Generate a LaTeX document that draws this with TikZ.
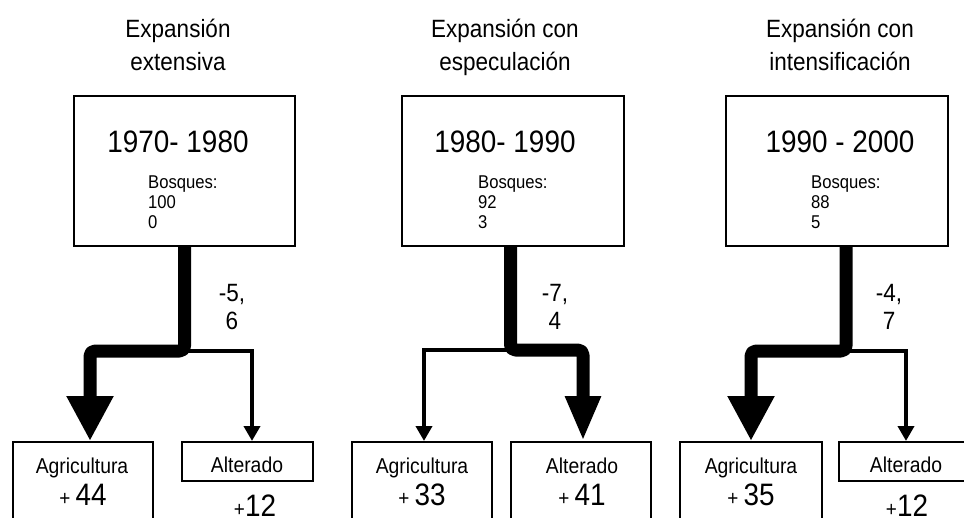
\documentclass[tikz,border=0pt]{standalone}
\usepackage{fontspec}
\setmainfont{Liberation Sans}[FakeStretch=0.9]
\usetikzlibrary{arrows.meta,calc}
\begin{document}
\begin{tikzpicture}[x=1pt,y=-1pt,
  box/.style={draw,line width=2pt,inner sep=0pt},
  titletext/.style={font=\fontsize{25}{33}\selectfont,align=center,inner sep=0pt},
  yeartext/.style={font=\fontsize{31}{36}\selectfont,inner sep=0pt},
  smalltext/.style={font=\fontsize{18.5}{20}\selectfont,align=left,inner sep=0pt},
  lbltext/.style={font=\fontsize{25}{28}\selectfont,align=center,inner sep=0pt},
  cattext/.style={font=\fontsize{21.5}{25}\selectfont,inner sep=0pt},
  thickflow/.style={line width=13pt,rounded corners=5pt,line join=round,
    -{Triangle[width=#1,length=45pt]}},
  thickflow/.default=44pt,
  thinflow/.style={line width=4pt,line join=miter,-{Triangle[width=16pt,length=15pt]}}
]
\useasboundingbox (0,0) rectangle (964,517);
\clip (0,0) rectangle (964,517);
\fill[white] (0,0) rectangle (964,517);

% ---------- Panel 1 ----------
\node[titletext,anchor=base] (t1) at (178,70) {Expansión\\extensiva};
\node[box,minimum width=221pt,minimum height=150pt] (yr1) at (184,171) {};
\node[yeartext,anchor=base] (y1) at (178,152) {1970- 1980};
\node[smalltext,anchor=base west] (b1) at (148,228) {Bosques:\\100\\0};
\node[box,minimum width=140pt,minimum height=118pt] (ag1) at (83,501) {};
\node[box,minimum width=131pt,minimum height=39pt] (al1) at (247.5,461.5) {};
\node[cattext,anchor=base] (agt1) at (82,473) {Agricultura};
\node[anchor=base,inner sep=0pt] (agn1) at (83,505) {\fontsize{21}{25}\selectfont + \fontsize{31}{36}\selectfont 44};
\node[cattext,anchor=base] (alt1) at (247,472) {Alterado};
\node[anchor=base,inner sep=0pt] (aln1) at (255,516) {\fontsize{21}{25}\selectfont +\fontsize{31}{36}\selectfont 12};
\node[lbltext,anchor=base] (l1) at (232,329) {-5,\\6};
\coordinate (j1) at (184.5,351);
\draw[thinflow] (j1) -| ($(al1.north)+(4.5,0)$);
\draw[thickflow] (yr1.south -| j1) -- (j1) -| ($(ag1.north)+(7,0)$);

% ---------- Panel 2 ----------
\node[titletext,anchor=base] (t2) at (505,70) {Expansión con\\especulación};
\node[box,minimum width=222pt,minimum height=150pt] (yr2) at (513,171) {};
\node[yeartext,anchor=base] (y2) at (505,152) {1980- 1990};
\node[smalltext,anchor=base west] (b2) at (478,228) {Bosques:\\92\\3};
\node[box,minimum width=140pt,minimum height=118pt] (ag2) at (422,501) {};
\node[box,minimum width=140pt,minimum height=118pt] (al2) at (581,501) {};
\node[cattext,anchor=base] (agt2) at (422,473) {Agricultura};
\node[anchor=base,inner sep=0pt] (agn2) at (422,505) {\fontsize{21}{25}\selectfont + \fontsize{31}{36}\selectfont 33};
\node[cattext,anchor=base] (alt2) at (582,473) {Alterado};
\node[anchor=base,inner sep=0pt] (aln2) at (582,505) {\fontsize{21}{25}\selectfont + \fontsize{31}{36}\selectfont 41};
\node[lbltext,anchor=base] (l2) at (555,329) {-7,\\4};
\coordinate (j2) at (510.5,350);
\draw[thinflow] (j2) -| ($(ag2.north)+(2,0)$);
\draw[thickflow=33pt] (yr2.south -| j2) -- (j2) -| ($(al2.north)+(2,0)$);

% ---------- Panel 3 ----------
\node[titletext,anchor=base] (t3) at (840,70) {Expansión con\\intensificación};
\node[box,minimum width=222pt,minimum height=150pt] (yr3) at (836.5,171) {};
\node[yeartext,anchor=base] (y3) at (840,152) {1990 - 2000};
\node[smalltext,anchor=base west] (b3) at (811,228) {Bosques:\\88\\5};
\node[box,minimum width=142pt,minimum height=118pt] (ag3) at (750.5,501) {};
\node[box,minimum width=136pt,minimum height=39pt] (al3) at (907,461.5) {};
\node[cattext,anchor=base] (agt3) at (751,473) {Agricultura};
\node[anchor=base,inner sep=0pt] (agn3) at (751,505) {\fontsize{21}{25}\selectfont + \fontsize{31}{36}\selectfont 35};
\node[cattext,anchor=base] (alt3) at (906,472) {Alterado};
\node[anchor=base,inner sep=0pt] (aln3) at (907,516) {\fontsize{21}{25}\selectfont +\fontsize{31}{36}\selectfont 12};
\node[lbltext,anchor=base] (l3) at (889,329) {-4,\\7};
\coordinate (j3) at (846,351);
\draw[thinflow] (j3) -| ($(al3.north)+(-1,0)$);
\draw[thickflow] (yr3.south -| j3) -- (j3) -| ($(ag3.north)+(0.5,0)$);
\end{tikzpicture}
\end{document}
